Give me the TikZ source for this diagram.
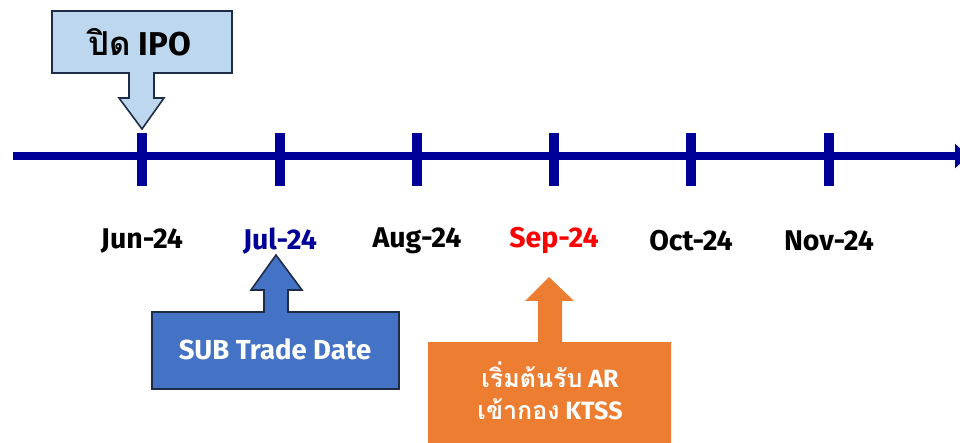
\documentclass[tikz,border=0pt]{standalone}
\usepackage{fontspec}
\setmainfont{Fira Sans}
\newfontfamily\thaifont[Script=Thai]{Loma}
\usetikzlibrary{arrows.meta}
\definecolor{axisblue}{RGB}{0,0,153}
\definecolor{ipofill}{RGB}{189,215,238}
\definecolor{darkedge}{RGB}{31,44,72}
\definecolor{subfill}{RGB}{68,114,196}
\definecolor{orangefill}{RGB}{237,125,49}
\definecolor{seplabel}{RGB}{255,0,0}
\definecolor{jullabel}{RGB}{0,0,153}
\tikzset{
  monthlabel/.style={font=\bfseries\fontsize{28.5}{32}\selectfont, text=black},
  tickmark/.style={draw=axisblue, line width=10pt},
  calloutedge/.style={draw=darkedge, line width=1.6pt, line join=miter},
  callouttext/.style={font=\bfseries\fontsize{25}{32}\selectfont, align=center}
}
\begin{document}
\begin{tikzpicture}[x=1pt,y=-1pt]
\useasboundingbox (0,0) rectangle (960,443);
\fill[white] (0,0) rectangle (960,443);
% axis
\coordinate (axstart) at (13,156);
\coordinate (axend) at (968,156);
\draw[axisblue, line width=8pt, -{Triangle[length=13pt,width=24pt]}] (axstart) -- (axend);
% ticks
\foreach \x/\n in {142/a,280/b,417/c,554/d,691/e,829/f} {
  \coordinate (top\n) at (\x,133);
  \coordinate (bot\n) at (\x,186);
  \draw[tickmark] (top\n) -- (bot\n);
}
% month labels
\node[monthlabel] (jun) at (142,241) {Jun-24};
\node[monthlabel, text=jullabel] (jul) at (280,241) {Jul-24};
\node[monthlabel] (aug) at (417,241) {Aug-24};
\node[monthlabel, text=seplabel] (sep) at (554,241) {Sep-24};
\node[monthlabel] (oct) at (691,241) {Oct-24};
\node[monthlabel] (nov) at (829,241) {Nov-24};
% IPO callout
\filldraw[fill=ipofill, calloutedge] (52,11) -- (232,11) -- (232,73) -- (154,73) -- (154,98) -- (164,98) -- (142,129) -- (119,98) -- (129,98) -- (129,73) -- (52,73) -- cycle;
\node[callouttext, font=\bfseries\fontsize{33}{38}\selectfont, text=black] (ipo) at (140,42) {{\thaifont ปิด} IPO};
% SUB callout
\filldraw[fill=subfill, calloutedge] (152,312) -- (264,312) -- (264,290) -- (251,290) -- (276,255) -- (302,290) -- (288,290) -- (288,312) -- (399,312) -- (399,389) -- (152,389) -- cycle;
\node[callouttext, font=\bfseries\fontsize{27.5}{32}\selectfont, text=white] (sub) at (275,349) {SUB Trade Date};
% AR callout
\fill[orangefill] (428,342) -- (538,342) -- (538,301) -- (525,301) -- (549,277) -- (574,301) -- (562,301) -- (562,342) -- (671,342) -- (671,450) -- (428,450) -- cycle;
\node[callouttext, text=white] (ar) at (550,391) {{\thaifont เริ่มต้นรับ} AR\\{\thaifont เข้ากอง} KTSS};
\end{tikzpicture}
\end{document}
